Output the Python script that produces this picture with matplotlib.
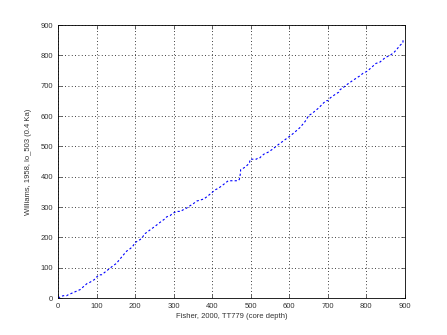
import numpy as np
import matplotlib
matplotlib.use("Agg")
import matplotlib.pyplot as plt

# depth pairs
fisher = [0, 4, 13, 22, 26, 46, 57, 75, 81, 94, 101, 107, 113, 133, 143, 151,
          168, 178, 184, 193, 200, 206, 213, 219, 224, 240, 252, 259, 265, 278,
          282, 291, 297, 308, 319, 323, 334, 342, 352, 360, 379, 386, 395, 408,
          416, 425, 442, 468, 471, 474, 474, 486, 497, 499, 501, 515, 518, 523,
          529, 535, 547, 557, 564, 573, 603, 612, 629, 642, 651, 659, 677, 690,
          697, 701, 707, 718, 729, 733, 739, 747, 757, 766, 783, 792, 803, 826,
          835, 850, 863, 872, 881, 888, 896, 896]
williams = [0, 3, 8, 8, 11, 22, 28, 48, 51, 61, 71, 77, 77, 97, 107, 114,
            140, 155, 160, 169, 183, 188, 193, 200, 211, 226, 237, 244, 250, 262,
            268, 272, 279, 286, 286, 290, 297, 304, 312, 320, 327, 334, 343, 357,
            362, 370, 387, 387, 392, 414, 423, 432, 445, 458, 458, 458, 461, 461,
            469, 475, 482, 491, 498, 507, 535, 544, 563, 583, 602, 608, 627, 644,
            651, 651, 660, 670, 679, 688, 692, 701, 710, 718, 732, 741, 748, 774,
            777, 793, 801, 809, 822, 833, 842, 851]
ticks = list(range(0, 901, 100))

plt.rcParams["font.family"] = ["Liberation Sans", "DejaVu Sans"]
plt.rcParams["font.size"] = 5.5

fig = plt.figure(figsize=(4.47, 3.35), dpi=100)
ax = fig.add_axes([0.13, 0.11, 0.775, 0.815])

# the original line is thin and broken up, so a dotted style is closest
ax.plot(fisher, williams, color="blue", linewidth=0.8, linestyle=(0, (2, 2)))

ax.set_xlim(0, 900)
ax.set_ylim(0, 900)
ax.set_xticks(ticks)
ax.set_yticks(ticks)
ax.tick_params(direction="in", length=3, width=0.5, top=True, right=True,
               colors="#333333")
ax.grid(True, linestyle=(0, (1, 3)), color="black", linewidth=0.6)
for s in ax.spines.values():
    s.set_linewidth(0.6)

ax.set_xlabel("Fisher, 2000, TT779 (core depth)", labelpad=2, color="#333333")
ax.set_ylabel("Williams, 1958, lo_503 (0.4 Ka)", labelpad=6, color="#333333")

fig.savefig("out.png", dpi=100)
